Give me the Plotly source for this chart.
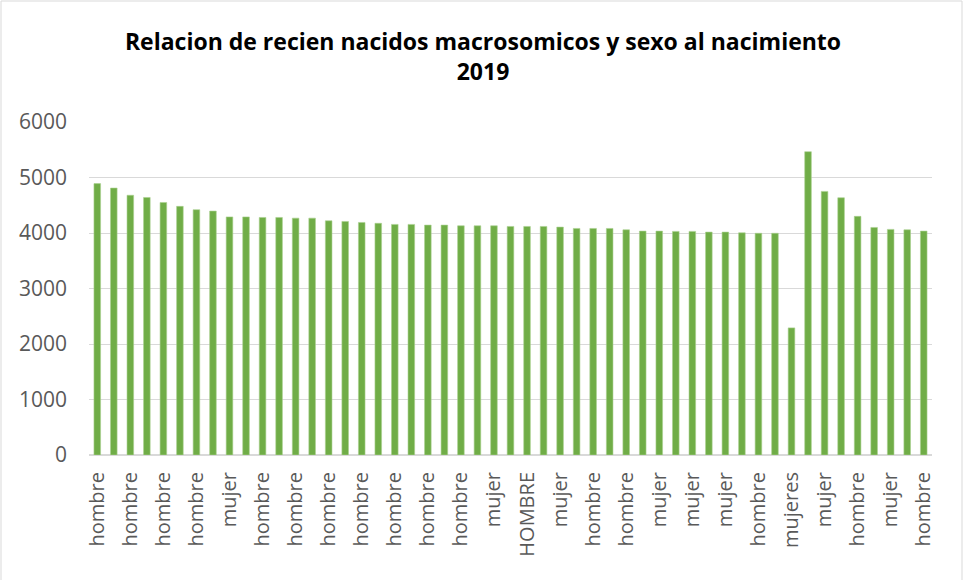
import plotly.graph_objects as go

# bar heights, left to right
values = [4890, 4810, 4680, 4640, 4550, 4480, 4420, 4395, 4290, 4290,
          4280, 4280, 4268, 4268, 4220, 4208, 4190, 4175, 4155, 4155,
          4142, 4142, 4130, 4130, 4130, 4118, 4118, 4118, 4106, 4082,
          4082, 4082, 4058, 4034, 4034, 4029, 4029, 4016, 4016, 4004,
          3995, 3995, 2290, 5465, 4750, 4635, 4300, 4100, 4065, 4058,
          4034]

# only every second bar carries a visible label in the original
tick_labels = ["hombre", "hombre", "hombre", "hombre", "mujer", "hombre",
               "hombre", "hombre", "hombre", "hombre", "hombre", "hombre",
               "mujer", "HOMBRE", "mujer", "hombre", "hombre", "mujer",
               "mujer", "mujer", "hombre", "mujeres", "mujer", "hombre",
               "mujer", "hombre"]

title = "Relacion de recien nacidos macrosomicos y sexo al nacimiento<br>2019"

x = list(range(len(values)))

fig = go.Figure(go.Bar(
    x=x,
    y=values,
    marker=dict(color="#70AD47", line=dict(color="#A9D08E", width=0.6)),
    hoverinfo="y",
))

W, H = 966, 580
ml, mr, mt, mb = 89, 34, 122, 125

fig.update_layout(
    width=W, height=H,
    margin=dict(l=ml, r=mr, t=mt, b=mb),
    paper_bgcolor="white",
    plot_bgcolor="white",
    bargap=0.6,
    showlegend=False,
    title=dict(
        text="<b>" + title + "</b>",
        x=0.5, xanchor="center",
        y=1 - 50 / H, yanchor="top", yref="container",
        font=dict(family="Open Sans", size=23, color="#000000"),
    ),
    font=dict(family="Open Sans", color="#595959"),
)

fig.update_xaxes(
    range=[-0.5, len(values) - 0.5],
    tickmode="array",
    tickvals=x[::2],
    ticktext=tick_labels,
    tickangle=-90,
    tickfont=dict(size=20, color="#595959"),
    ticklabelstandoff=8,
    showgrid=False,
    showline=True, linecolor="#D9D9D9", linewidth=1,
    ticks="",
    automargin=False,
)

fig.update_yaxes(
    range=[0, 6000],
    dtick=1000,
    tickfont=dict(size=21, color="#595959"),
    ticklabelstandoff=21,
    showgrid=True, gridcolor="#D9D9D9", gridwidth=1,
    zeroline=True, zerolinecolor="#D9D9D9",
    ticks="",
    automargin=False,
)

# thin frame around the whole chart area, like the spreadsheet chart
pw, ph = W - ml - mr, H - mt - mb
fig.add_shape(
    type="rect", xref="paper", yref="paper",
    x0=(1 - ml) / pw, x1=(W - 4 - ml) / pw,
    y0=(mb - 577) / ph, y1=(H - 1 - mb) / ph,
    line=dict(color="#D9D9D9", width=1),
    layer="below",
)

fig.write_html("out.html", config={"displayModeBar": False},
               post_script="document.body.style.margin='0';")
